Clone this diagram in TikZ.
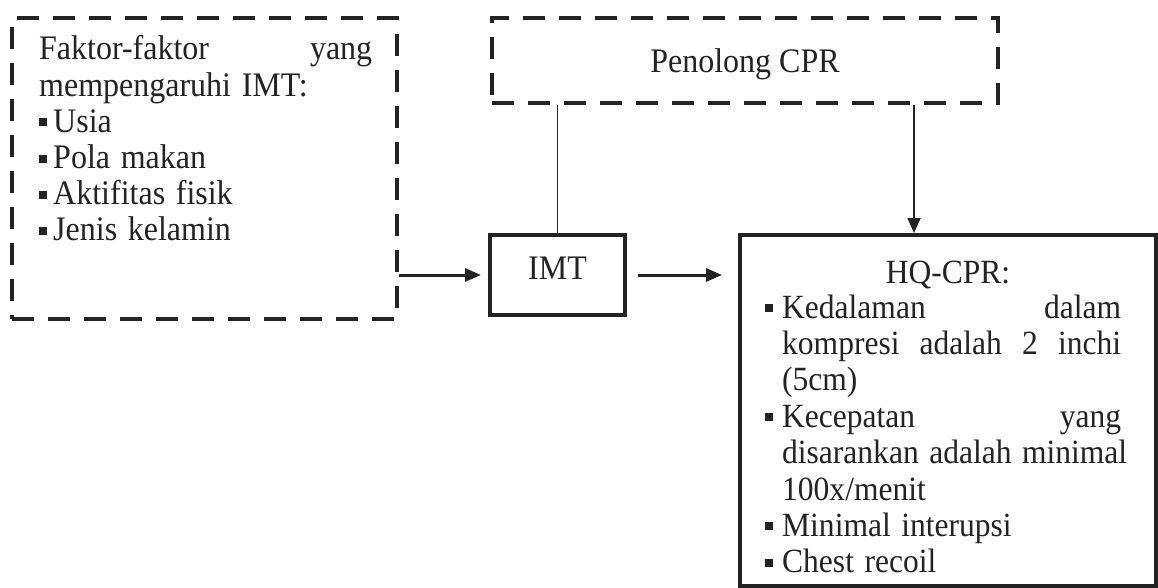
\documentclass[tikz,border=0pt]{standalone}
\usepackage{graphicx}
\usepackage{fontspec}
\setmainfont{Liberation Serif}
\usetikzlibrary{arrows.meta}
\definecolor{ink}{RGB}{35,35,35}
\newcommand{\lbul}{\rule[6pt]{8.6pt}{8pt}\hspace{6.5pt}}
\newcommand{\rbul}{\hspace*{-18.3pt}\rule[6pt]{8.6pt}{8pt}\hspace{9.7pt}}
\newcommand{\nar}[1]{\scalebox{0.93}[1]{#1}}
\begin{document}
\begin{tikzpicture}[x=1pt,y=-1pt,
  every node/.style={text=ink},
  dashbox/.style={draw=ink, line width=4pt, dash pattern=on 22pt off 14pt, inner sep=0pt, rectangle},
  solidbox/.style={draw=ink, line width=4pt, inner sep=0pt, rectangle},
  thinline/.style={draw=ink, line width=1.8pt},
  arr/.style={draw=ink, line width=3pt, -{Triangle[length=16pt,width=13pt]}},
  varr/.style={draw=ink, line width=1.8pt, -{Triangle[length=15pt,width=13pt]}},
  narrow/.style={xscale=0.93, transform shape},
  bodytext/.style={anchor=base west, inner sep=0pt, align=left, narrow}]
\useasboundingbox (0,0) rectangle (1158,588);
\fill[white] (0,0) rectangle (1158,588);

% boxes
\node[dashbox, minimum width=385pt, minimum height=301pt] (left) at (204.5,168.5) {};
\node[dashbox, minimum width=506pt, minimum height=85pt,
      font=\fontsize{34.4pt}{38pt}\selectfont, text height=25pt, text depth=0pt] (pen) at (745,60.5) {\nar{Penolong CPR}};
\node[solidbox, minimum width=135pt, minimum height=80pt,
      font=\fontsize{34.4pt}{38pt}\selectfont, text height=23pt, text depth=15pt] (imt) at (557.5,275) {\nar{IMT}};
\node[solidbox, minimum width=416pt, minimum height=351pt] (hq) at (948,410.5) {};

% texts
\node[bodytext, text width=358.1pt, font=\fontsize{34.4pt}{36.2pt}\selectfont] (lefttext) at (39,60)
{Faktor-faktor\hfill yang\\
mempengaruhi IMT:\\
\lbul Usia\\
\lbul Pola makan\\
\lbul Aktifitas fisik\\
\lbul Jenis kelamin};

\node[anchor=base, narrow, font=\fontsize{33.9pt}{36pt}\selectfont] (hqtitle) at (948,283) {HQ-CPR:};
\node[bodytext, text width=364.5pt, font=\fontsize{33.9pt}{36.4pt}\selectfont] (hqtext) at (782,318)
{\rbul Kedalaman\hfill dalam\\
kompresi\hfill adalah\hfill 2\hfill inchi\\
(5cm)\\
\rbul Kecepatan\hfill yang\\
\makebox[\linewidth][s]{disarankan adalah minimal}\\
100x/menit\\
\rbul Minimal interupsi\\
\rbul Chest recoil};

% connectors
\draw[arr, shorten >=7pt] (left.east |- imt.west) -- (imt.west);
\draw[arr, shorten <=11pt, shorten >=16pt] (imt.east) -- (imt.east -| hq.west);
\draw[thinline] (imt.north |- pen.south) -- (imt.north);
\coordinate (ax) at (914,0);
\draw[varr] (ax |- pen.south) -- (ax |- hq.north);
\end{tikzpicture}
\end{document}
